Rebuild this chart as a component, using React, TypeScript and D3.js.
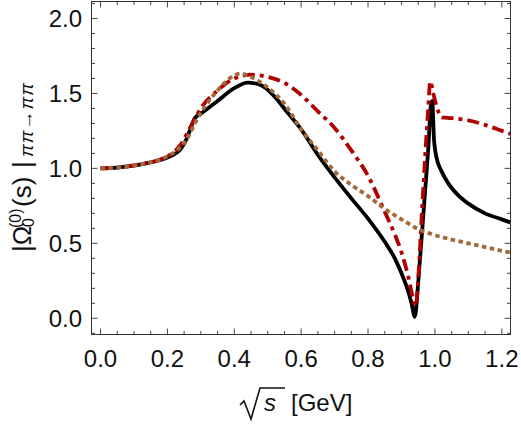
import React from 'react';
import * as d3 from 'd3';

// sqrt(s) in GeV, and |Omega| for the three solutions
const solidX = [0, 0.05, 0.1, 0.15, 0.2, 0.24, 0.26, 0.275, 0.282, 0.3, 0.35, 0.4, 0.44, 0.48, 0.52, 0.56, 0.6, 0.65, 0.7, 0.75, 0.8, 0.85, 0.88, 0.9, 0.92, 0.93, 0.94, 0.95, 0.96, 0.97, 0.98, 0.988, 0.992, 0.997, 1.005, 1.02, 1.04, 1.07, 1.1, 1.15, 1.2, 1.225];
const solidY = [1.0, 1.005, 1.018, 1.04, 1.072, 1.13, 1.21, 1.3, 1.335, 1.365, 1.45, 1.535, 1.572, 1.555, 1.48, 1.37, 1.26, 1.09, 0.94, 0.8, 0.665, 0.51, 0.4, 0.3, 0.18, 0.1, 0.01, 0.24, 0.53, 0.83, 1.13, 1.42, 1.45, 1.2, 1.07, 0.98, 0.9, 0.82, 0.765, 0.7, 0.66, 0.64];

const dashDotX = [0, 0.1, 0.2, 0.24, 0.27, 0.3, 0.35, 0.4, 0.45, 0.5, 0.55, 0.6, 0.65, 0.7, 0.75, 0.8, 0.85, 0.88, 0.9, 0.92, 0.935, 0.943, 0.95, 0.96, 0.97, 0.98, 0.986, 0.995, 1.01, 1.02, 1.05, 1.1, 1.15, 1.2, 1.225];
const dashDotY = [1.0, 1.02, 1.08, 1.16, 1.28, 1.4, 1.52, 1.6, 1.625, 1.61, 1.57, 1.49, 1.38, 1.27, 1.12, 0.95, 0.71, 0.56, 0.44, 0.28, 0.13, 0.08, 0.26, 0.66, 1.05, 1.4, 1.58, 1.5, 1.38, 1.34, 1.335, 1.32, 1.29, 1.25, 1.23];

const dottedX = [0, 0.1, 0.2, 0.25, 0.3, 0.35, 0.4, 0.42, 0.45, 0.5, 0.55, 0.6, 0.65, 0.7, 0.75, 0.8, 0.85, 0.9, 0.95, 1.0, 1.05, 1.1, 1.15, 1.2, 1.225];
const dottedY = [1.0, 1.02, 1.08, 1.17, 1.37, 1.52, 1.62, 1.632, 1.61, 1.54, 1.43, 1.26, 1.12, 0.98, 0.89, 0.815, 0.73, 0.66, 0.595, 0.555, 0.525, 0.5, 0.475, 0.45, 0.44];

const xTicks = [0, 0.2, 0.4, 0.6, 0.8, 1.0, 1.2];
const yTicks = [0, 0.5, 1.0, 1.5, 2.0];

const W = 521;
const H = 434;
const left = 91.5;
const right = 510.5;
const top = 1.5;
const bottom = 334.5;

const font = '"Liberation Sans", Arial, sans-serif';

export default function App() {
  const x = d3.scaleLinear().domain([-0.027, 1.226]).range([left, right]);
  const y = d3.scaleLinear().domain([-0.108, 2.113]).range([bottom, top]);

  const line = d3
    .line<[number, number]>()
    .x((d) => x(d[0]))
    .y((d) => y(d[1]))
    .curve(d3.curveMonotoneX);

  const zip = (a: number[], b: number[]) => a.map((v, i) => [v, b[i]] as [number, number]);

  const xMinor = d3.range(0, 1.2251, 0.05);
  const yMinor = d3.range(-0.1, 2.1001, 0.1);

  const tickStroke = '#444';

  return (
    <svg width={W} height={H} style={{ position: 'absolute', left: 0, top: 0, background: '#fff' }}>
      <defs>
        <clipPath id="plot">
          <rect x={left} y={top} width={right - left} height={bottom - top} />
        </clipPath>
      </defs>

      {/* ticks on all four sides */}
      <g stroke={tickStroke} strokeWidth={1}>
        {xMinor.map((v) => {
          const major = xTicks.some((t) => Math.abs(t - v) < 1e-6);
          const len = major ? 6 : 3.5;
          return (
            <g key={'x' + v}>
              <line x1={x(v)} x2={x(v)} y1={bottom} y2={bottom - len} />
              <line x1={x(v)} x2={x(v)} y1={top} y2={top + len} />
            </g>
          );
        })}
        {yMinor.map((v) => {
          const major = yTicks.some((t) => Math.abs(t - v) < 1e-6);
          const len = major ? 6 : 3.5;
          return (
            <g key={'y' + v}>
              <line x1={left} x2={left + len} y1={y(v)} y2={y(v)} />
              <line x1={right} x2={right - len} y1={y(v)} y2={y(v)} />
            </g>
          );
        })}
      </g>

      <g clipPath="url(#plot)" fill="none" strokeLinejoin="round">
        <path d={line(zip(solidX, solidY)) || ''} stroke="#000" strokeWidth={3.8} />
        <path d={line(zip(dashDotX, dashDotY)) || ''} stroke="#b00000" strokeWidth={3.8} strokeDasharray="12,5,4,5" />
        <path d={line(zip(dottedX, dottedY)) || ''} stroke="#a26a3a" strokeWidth={3.8} strokeDasharray="4.5,3.5" />
      </g>

      <rect x={left} y={top} width={right - left} height={bottom - top} fill="none" stroke="#333" strokeWidth={1} />

      <g fontFamily={font} fontSize={24} fill="#111">
        {xTicks.map((t) => (
          <text key={t} x={x(t)} y={367} textAnchor="middle">
            {t.toFixed(1)}
          </text>
        ))}
        {yTicks.map((t) => (
          <text key={t} x={82} y={y(t) + 8.5} textAnchor="end">
            {t.toFixed(1)}
          </text>
        ))}
      </g>

      {/* x title: sqrt(s) [GeV] */}
      <g fontFamily={font} fill="#111">
        <path d="M240,405 L244,401 L251,419 L260,388 L285,388" fill="none" stroke="#111" strokeWidth={1.6} />
        <text x={264} y={411} fontSize={24} fontStyle="italic">s</text>
        <text x={291} y={411} fontSize={24}>[GeV]</text>
      </g>

      {/* y title */}
      <g transform="translate(31,252) rotate(-90)" fontFamily={font} fill="#111">
        <text x={0} y={0} fontSize={26}>|Ω</text>
        <text x={24} y={-10} fontSize={16}>(0)</text>
        <text x={25} y={3} fontSize={16}>0</text>
        <text x={45} y={0} fontSize={26}>(s)</text>
        <text x={84} y={0} fontSize={26}>|</text>
        <text x={95} y={2} fontSize={19} fontStyle="italic" textLength={74} lengthAdjust="spacing">ππ→ππ</text>
      </g>
    </svg>
  );
}
